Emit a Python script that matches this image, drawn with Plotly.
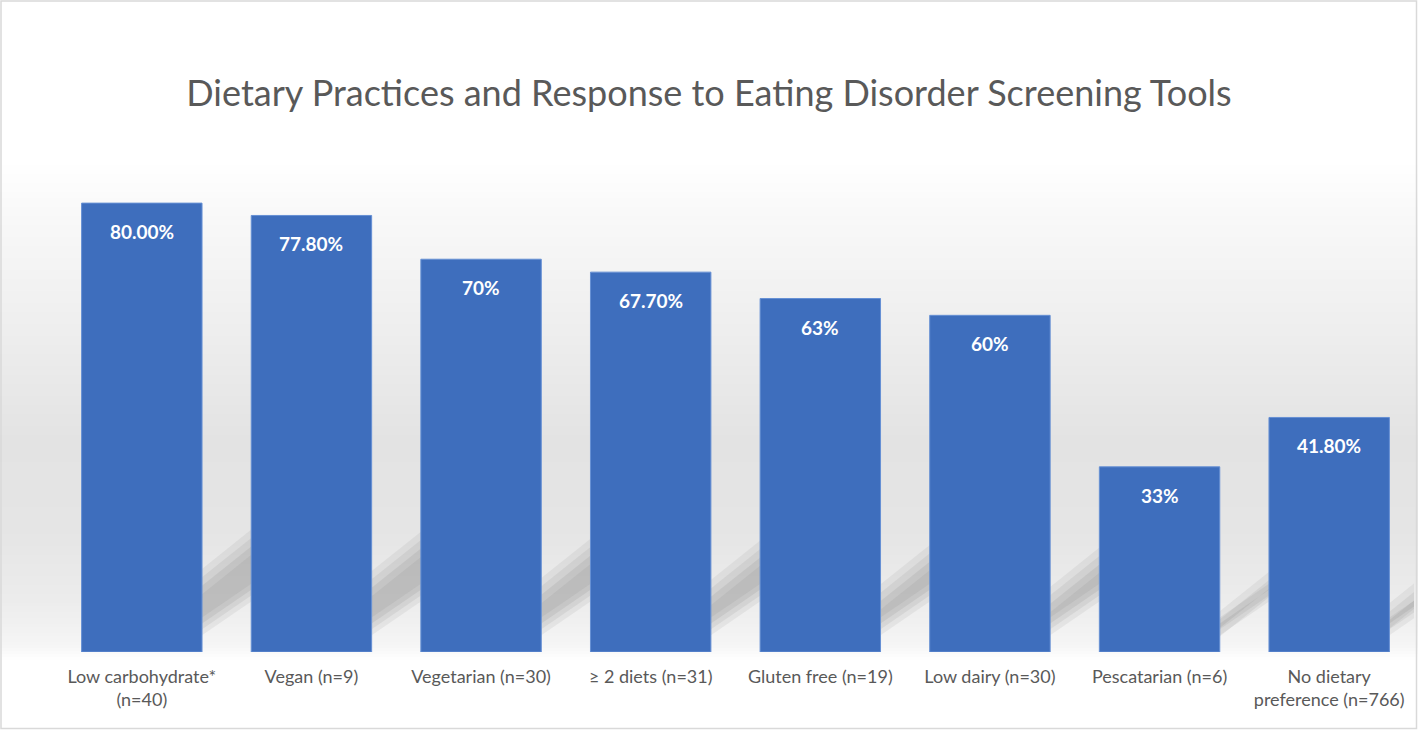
import plotly.graph_objects as go

categories = ["Low carbohydrate*<br>(n=40)", "Vegan (n=9)", "Vegetarian (n=30)", "≥ 2 diets (n=31)",
              "Gluten free (n=19)", "Low dairy (n=30)", "Pescatarian (n=6)", "No dietary<br>preference (n=766)"]
values = [80.0, 77.8, 70, 67.7, 63, 60, 33, 41.8]
value_labels = ["80.00%", "77.80%", "70%", "67.70%", "63%", "60%", "33%", "41.80%"]
title_text = "Dietary Practices and Response to Eating Disorder Screening Tools"

W, H = 1418, 730
L, R, T, B = 57, 1414, 147, 652
YMAX = 90
BARGAP = 0.29
half = (1 - BARGAP) / 2

def px_x(p):
    return (p - L) / (R - L)

def px_y(p):
    return (B - p) / (B - T)

fig = go.Figure()

fig.add_trace(go.Bar(
    x=list(range(len(categories))), y=values,
    marker=dict(color="#3e6ebd", line=dict(color="#6690d4", width=1)),
    hoverinfo="skip", showlegend=False,
))

for i, (v, lab) in enumerate(zip(values, value_labels)):
    fig.add_annotation(x=i, y=v, text="<b>%s</b>" % lab, showarrow=False,
                       yanchor="top", yshift=-15,
                       font=dict(family="Lato", size=19, color="#ffffff"))

# background gradient stripes
stops = [(0, (255, 255, 255)), (160, (255, 255, 255)), (230, (247, 247, 247)),
         (330, (238, 238, 238)), (440, (227, 227, 227)), (530, (229, 229, 229)),
         (600, (236, 236, 236)), (645, (245, 245, 245)), (660, (255, 255, 255)),
         (730, (255, 255, 255))]

def col_at(py):
    for (a, ca), (b, cb) in zip(stops[:-1], stops[1:]):
        if a <= py <= b:
            t = (py - a) / (b - a) if b > a else 0
            return tuple(round(ca[k] + (cb[k] - ca[k]) * t) for k in range(3))
    return (255, 255, 255)

shapes = []
step = 3
for py in range(150, 664, step):
    c = col_at(py + step / 2)
    shapes.append(dict(type="rect", xref="paper", yref="paper",
                       x0=px_x(0), x1=px_x(W), y0=px_y(py + step), y1=px_y(py),
                       fillcolor="rgb(%d,%d,%d)" % c, line=dict(width=0), layer="below"))

# soft perspective shadows behind bars (below the bar layer)
gap = BARGAP
for i, v in enumerate(values):
    x0 = i + half
    x1 = x0 + gap + 0.05
    k = (x1 - x0) / gap
    for shrink, alpha in [(0.0, 0.10), (1.5, 0.12), (3.0, 0.14), (4.5, 0.12)]:
        tl = 0.16 * v + 2 - shrink
        tr = tl + 7 * k
        bl = 3 + shrink * 0.7
        br = bl + 6 * k
        path = "M %f,%f L %f,%f L %f,%f L %f,%f Z" % (x0, bl, x0, tl, x1, tr, x1, br)
        shapes.append(dict(type="path", xref="x", yref="y", path=path,
                           fillcolor="rgba(120,120,120,%.2f)" % alpha,
                           line=dict(width=0), layer="below"))

shapes.append(dict(type="rect", xref="paper", yref="paper",
                   x0=px_x(1), x1=px_x(1416.5), y0=px_y(728.5), y1=px_y(1),
                   fillcolor="rgba(0,0,0,0)", line=dict(color="#d9d9d9", width=1.5), layer="above"))

fig.update_layout(
    width=W, height=H,
    margin=dict(l=L, r=W - R, t=T, b=H - B, pad=0),
    paper_bgcolor="#ffffff", plot_bgcolor="rgba(0,0,0,0)",
    bargap=BARGAP,
    shapes=shapes,
    title=dict(text=title_text, x=0.5, xanchor="center", y=1 - 93 / H, yanchor="middle",
               font=dict(family="Lato", size=36, color="#595959")),
    xaxis=dict(range=[-0.5, len(categories) - 0.5], tickmode="array",
               tickvals=list(range(len(categories))), ticktext=categories,
               showgrid=False, zeroline=False, showline=False,
               ticks="outside", ticklen=8, tickcolor="rgba(0,0,0,0)",
               tickfont=dict(family="Lato", size=18, color="#595959")),
    yaxis=dict(range=[0, YMAX], visible=False, showgrid=False, zeroline=False),
    font=dict(family="Lato"),
)

fig.write_html("out.html", config={"displayModeBar": False},
               post_script="document.body.style.margin='0';document.body.style.overflow='hidden';")
